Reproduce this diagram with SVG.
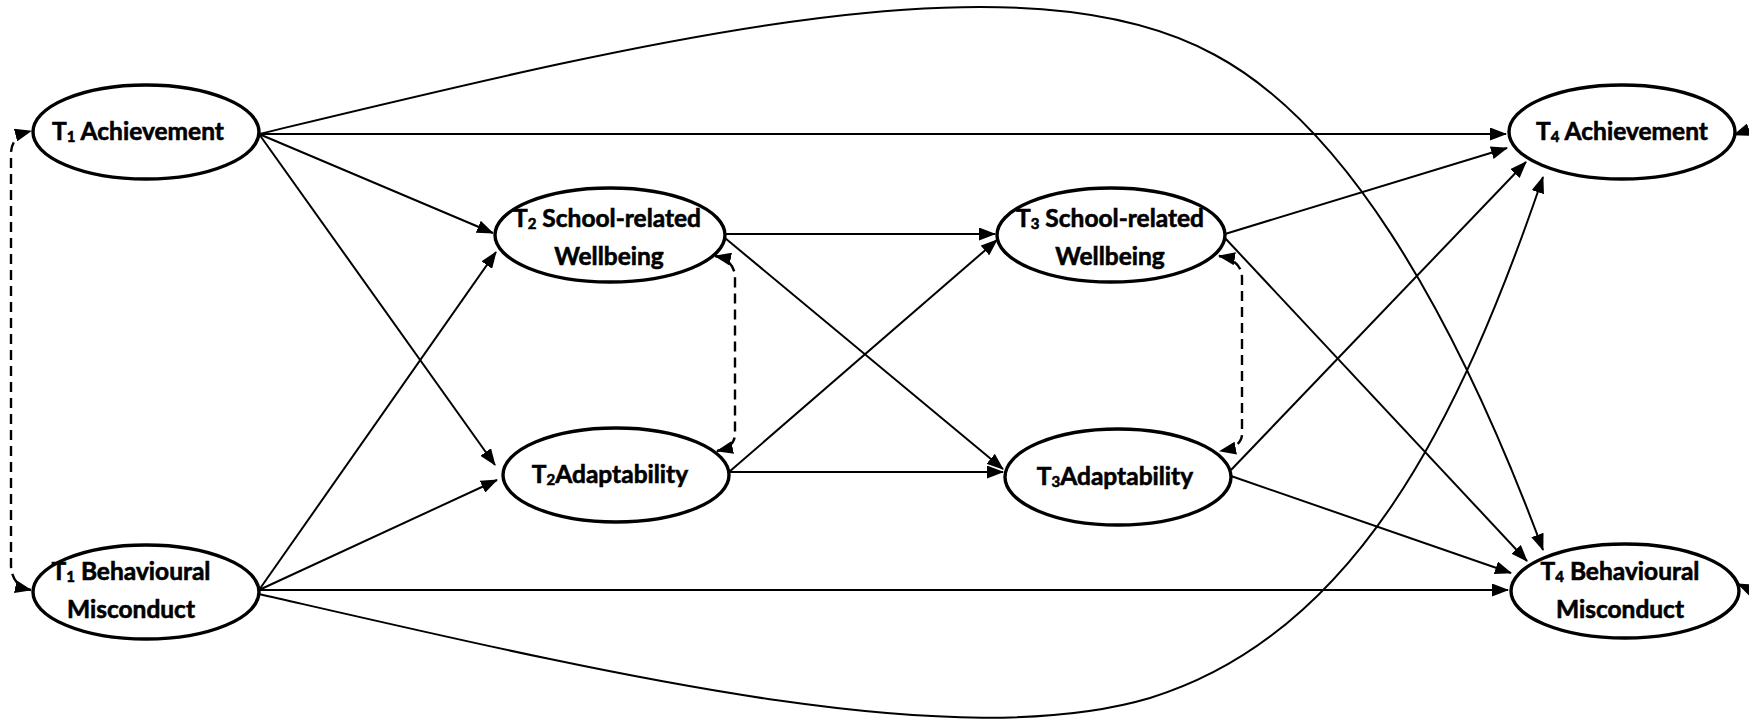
<svg xmlns="http://www.w3.org/2000/svg" width="1749" height="719" viewBox="0 0 1749 719">
<defs>
<marker id="ah" viewBox="0 0 17 13" refX="16" refY="6.5" markerWidth="17" markerHeight="13" markerUnits="userSpaceOnUse" orient="auto-start-reverse">
<path d="M0,0 L17,6.5 L0,13 Z" fill="#000"/>
</marker>
<style>
.node ellipse{fill:#fff;stroke:#000;stroke-width:3.4}
.node text{font-family:Lato,"Liberation Sans",Arial,sans-serif;font-weight:bold;font-size:24.5px;fill:#000;stroke:#000;stroke-width:0.6;text-anchor:middle}
.sub{font-size:15px}
.c path{fill:none;stroke:#000;stroke-width:2}
.c .d{stroke-dasharray:10 6;stroke-width:2.4}
</style>
</defs>
<rect width="1749" height="719" fill="#fff"/>
<g class="c" id="connectors">
<path d="M259,134 L1506,134" marker-end="url(#ah)"/>
<path d="M259,134 L493,233" marker-end="url(#ah)"/>
<path d="M259,134 L495,465" marker-end="url(#ah)"/>
<path d="M259,134 C650,40 1020,-52 1215,55 C1340,122 1450,300 1543,550" marker-end="url(#ah)"/>
<path d="M259,590 L496,252" marker-end="url(#ah)"/>
<path d="M259,590 L497,480" marker-end="url(#ah)"/>
<path d="M259,590 L1508,590" marker-end="url(#ah)"/>
<path d="M259,594 C600,672 950,757 1150,698 C1355,635 1460,420 1543,177" marker-end="url(#ah)"/>
<path d="M725,234 L995,234" marker-end="url(#ah)"/>
<path d="M725,238 L1003,469" marker-end="url(#ah)"/>
<path d="M729,472 L1003,472" marker-end="url(#ah)"/>
<path d="M729,472 L997,240" marker-end="url(#ah)"/>
<path d="M1225,234 L1507,148" marker-end="url(#ah)"/>
<path d="M1225,238 L1527,561" marker-end="url(#ah)"/>
<path d="M1231,470 L1526,162" marker-end="url(#ah)"/>
<path d="M1231,476 L1511,573" marker-end="url(#ah)"/>
<path class="d" d="M31,590 Q12,586 11,566 L11,152 Q12,136 31,131" marker-start="url(#ah)" marker-end="url(#ah)"/>
<path class="d" d="M715,256 Q735,260 735,278 L735,434 Q735,447 717,451" marker-start="url(#ah)" marker-end="url(#ah)"/>
<path class="d" d="M1219,256 Q1242,260 1242,278 L1242,434 Q1242,447 1220,451" marker-start="url(#ah)" marker-end="url(#ah)"/>
<path d="M1765,124 L1734,135" marker-end="url(#ah)"/>
<path d="M1765,596 L1738,584" marker-end="url(#ah)"/>
</g>
<g class="node" id="t1ach">
<ellipse cx="146" cy="132" rx="113" ry="47"/>
<text x="138" y="140">T<tspan class="sub" dy="2">1</tspan><tspan dy="-2"> Achievement</tspan></text>
</g>
<g class="node" id="t1beh">
<ellipse cx="146" cy="592" rx="113" ry="47"/>
<text x="131" y="580">T<tspan class="sub" dy="2">1</tspan><tspan dy="-2"> Behavioural</tspan></text>
<text x="131" y="618">Misconduct</text>
</g>
<g class="node" id="t2sw">
<ellipse cx="610" cy="235" rx="115" ry="47"/>
<text x="607" y="227">T<tspan class="sub" dy="2">2</tspan><tspan dy="-2"> School-related</tspan></text>
<text x="609" y="265">Wellbeing</text>
</g>
<g class="node" id="t2ad">
<ellipse cx="616" cy="475" rx="113" ry="47"/>
<text x="610" y="483">T<tspan class="sub" dy="2">2</tspan><tspan dy="-2">Adaptability</tspan></text>
</g>
<g class="node" id="t3sw">
<ellipse cx="1111" cy="235" rx="114" ry="47"/>
<text x="1110" y="227">T<tspan class="sub" dy="2">3</tspan><tspan dy="-2"> School-related</tspan></text>
<text x="1110" y="265">Wellbeing</text>
</g>
<g class="node" id="t3ad">
<ellipse cx="1118" cy="477" rx="113" ry="48"/>
<text x="1115" y="485">T<tspan class="sub" dy="2">3</tspan><tspan dy="-2">Adaptability</tspan></text>
</g>
<g class="node" id="t4ach">
<ellipse cx="1622" cy="132" rx="113" ry="47"/>
<text x="1622" y="140">T<tspan class="sub" dy="2">4</tspan><tspan dy="-2"> Achievement</tspan></text>
</g>
<g class="node" id="t4beh">
<ellipse cx="1625" cy="591" rx="114" ry="47"/>
<text x="1620" y="580">T<tspan class="sub" dy="2">4</tspan><tspan dy="-2"> Behavioural</tspan></text>
<text x="1620" y="618">Misconduct</text>
</g>
</svg>
